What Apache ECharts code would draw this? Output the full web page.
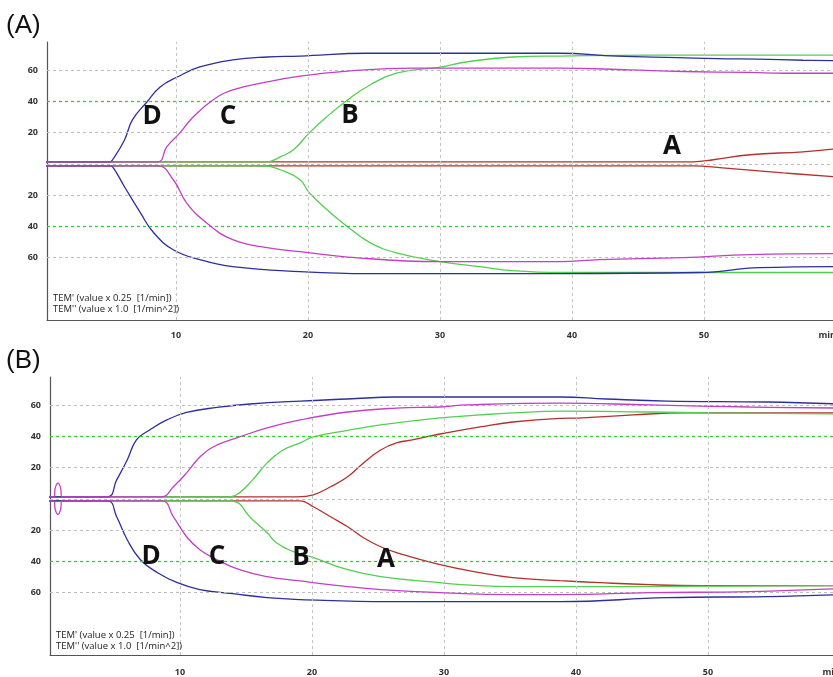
<!DOCTYPE html>
<html><head><meta charset="utf-8">
<script src="https://cdn.jsdelivr.net/npm/echarts@6/dist/echarts.min.js"></script>
<style>html,body{margin:0;padding:0;background:#fff}#c{width:833px;height:677px}</style>
</head><body><div id="c"></div><script>
// ---- Data (time in min, scaled value) ----
const xTicks = [10, 20, 30, 40, 50, 60];
const yGridGray = [60, 20, 0, -20, -60];
const yGridGreen = [40, -40];

// Panel (A)
const aD_up = [[0,1.3],[5.0,1.3],[5.2,2.6],[6.1,15.3],[6.7,28.1],[7.8,39.6],[8.8,49.2],[10.1,55.6],[11.8,62],[14.3,66.5],[16.9,68.4],[19.4,69],[24.5,70.8],[39,70.8],[43.4,69],[48,68],[51,67.3],[54,67],[57.5,66.3],[60,66]];
const aD_lo = [[0,-1.3],[5.0,-1.3],[5.2,-1.9],[6.1,-14.7],[7.3,-31.3],[8.3,-44],[9.8,-55],[11.8,-61.3],[14.3,-65.8],[19.4,-69],[24.5,-70.3],[39,-70.3],[49.7,-69.6],[54.2,-66.5],[60,-65.8]];
const aC_up = [[0,1.3],[8.6,1.3],[9.3,10.9],[10.3,19.8],[11.3,30],[12.8,40.9],[14.3,47.3],[16.9,52.4],[19.4,56.2],[23,59.4],[28,61.3],[39.1,61.3],[44.4,60.1],[48.4,59.1],[53.5,58.5],[56,58],[60,58]];
const aC_lo = [[0,-1.3],[8.6,-1.3],[9.8,-10.2],[10.8,-25],[12.3,-37.7],[14.3,-48.6],[16.9,-53.7],[19.4,-56.2],[23,-59.7],[30,-62.6],[39.1,-62.6],[42.1,-61.3],[48.4,-60.1],[53.5,-58.1],[60,-57.5]];
const aB_up = [[0,1.3],[16.9,1.3],[17.9,4.5],[18.9,9],[20.1,19.8],[21.4,30],[23,40.9],[24.7,50.5],[26.7,58.1],[30,61.9],[32,65.2],[35.5,68.4],[39.1,69],[45.9,69.6],[60,69.6]];
const aB_lo = [[0,-1.3],[16.7,-1.3],[17.9,-3.8],[19.4,-10.2],[20.1,-18.5],[21.7,-31.3],[23,-40.3],[24.7,-50.5],[26.7,-57],[30,-62.6],[33,-65.8],[35.5,-68.4],[39.1,-69.6],[60,-69.6]];
const aA_up = [[0,1.3],[49.2,1.3],[50.7,2.6],[53.5,5.8],[57.5,7.7],[60,9.6]];
const aA_lo = [[0,-1.3],[49.2,-1.3],[51.4,-2.6],[56,-5.8],[60,-8.3]];

// Panel (B)
const bD_up = [[0,1.3],[4.5,1.3],[5.2,12.1],[6,24.9],[6.7,37.7],[7.7,44.1],[9,50.5],[10.5,55.3],[12.8,58.5],[15.3,60.7],[19.1,62.6],[22.7,63.9],[26.4,65.2],[38.8,65.2],[42.3,63.9],[46.9,62.6],[54.5,62],[60,60.7]];
const bD_lo = [[0,-1.3],[4.5,-1.3],[5.2,-11.5],[6,-26.2],[7,-39],[8.3,-47.3],[9.8,-53.7],[11.5,-58.1],[14,-60.7],[16.6,-63.3],[19.1,-64.5],[25.9,-65.8],[38.8,-65.8],[46.9,-63.3],[54.5,-62.6],[60,-61.3]];
const bC_up = [[0,1.3],[0.45,1.3],[0.55,7],[0.75,10],[0.95,7],[1.05,1.3],[8.6,1.3],[9.5,7.7],[10.5,16.6],[11.5,26.8],[12.5,33.2],[14.5,39.6],[16.6,45.4],[19.1,50.5],[22.7,55.6],[26.4,58.1],[29.7,58.8],[31.7,60.1],[38.8,61.3],[45.6,60.1],[53.2,58.8],[60,58.1]];
const bC_lo = [[0,-1.3],[0.45,-1.3],[0.55,-7],[0.75,-10],[0.95,-7],[1.05,-1.3],[8.6,-1.3],[9.5,-11.5],[10.5,-24.3],[11.5,-32.6],[12.8,-39],[14.5,-45.4],[16.6,-49.8],[19.1,-52.6],[22.7,-56.2],[25.2,-58.1],[29.7,-60.1],[35.2,-61.3],[38.8,-61.3],[45.6,-60.1],[53.2,-59.4],[60,-57.5]];
const bB_up = [[0,1.3],[13.8,1.3],[14.5,3.8],[15.5,12.1],[16.6,23],[17.8,31.3],[19.1,35.8],[20.1,39.6],[22.7,43.8],[25.2,47.3],[29.7,51.8],[32.7,53.7],[35.2,55],[38.8,56.2],[45.6,55.6],[50.2,55],[60,54.3]];
const bB_lo = [[0,-1.3],[13.8,-1.3],[15.5,-13.4],[16.6,-21.7],[17.3,-28.1],[18.5,-33.5],[20.1,-37.7],[22.7,-45.4],[25.2,-49.8],[29.7,-53.7],[32.7,-55.6],[35.2,-56.2],[38.8,-56.2],[60,-55.6]];
const bA_up = [[0,1.3],[18.9,1.3],[20.1,2.6],[21.4,7.7],[22.7,14.1],[23.9,23],[25.2,31.3],[26.4,35.8],[27.6,37.7],[29.7,41.5],[32.7,46],[35.2,49.2],[38.8,51.5],[40.5,51.8],[44.3,53.7],[48.1,55],[60,55]];
const bA_lo = [[0,-1.3],[19.1,-1.3],[20.1,-5.1],[21.4,-11.5],[22.7,-17.9],[23.9,-24.9],[25.2,-30.7],[26.4,-34.5],[29.7,-42.2],[32.7,-47.3],[35.2,-50.5],[38.8,-52.4],[41.8,-53.7],[45.6,-55],[49.4,-55.6],[60,-55.6]];

const COL = {A:'#b3302d', B:'#4fd04f', C:'#c23fc6', D:'#2d2f9c'};
const TICKFONT = {fontFamily:'Open Sans', fontSize:9, fontWeight:'bold', color:'#333'};

function line(data, color, idx, z) {
  return {type:'line', xAxisIndex:idx, yAxisIndex:idx, data:data, showSymbol:false, symbol:'none',
    smooth:0.45, z:z, silent:true, animation:false,
    lineStyle:{color:color, width:1.3}};
}
function grids(idx) {
  const d = [];
  yGridGray.forEach(v => d.push({yAxis:v, lineStyle:{color:'#bdbdbd', type:[3,3], width:1}}));
  yGridGreen.forEach(v => d.push({yAxis:v, lineStyle:{color:'#33cc33', type:[3,3], width:1.3}}));
  xTicks.slice(0,5).forEach(v => d.push({xAxis:v, lineStyle:{color:'#c4c4c4', type:[3,3], width:1}}));
  return {type:'line', xAxisIndex:idx, yAxisIndex:idx, data:[], z:1, silent:true, animation:false,
    markLine:{symbol:'none', silent:true, animation:false, precision:2, label:{show:false}, data:d}};
}
function xAx(idx, min, margin) {
  return {type:'value', gridIndex:idx, min:min, max:60,
    axisLine:{show:true, onZero:false, lineStyle:{color:'#555', width:1.2}},
    axisTick:{show:false}, splitLine:{show:false},
    axisLabel:Object.assign({margin:margin, customValues:xTicks, alignMaxLabel:'right',
      formatter:v => v === 60 ? 'min' : String(v)}, TICKFONT)};
}
function yAx(idx) {
  return {type:'value', gridIndex:idx, min:-100, max:78, interval:20,
    axisLine:{show:true, onZero:false, lineStyle:{color:'#555', width:1.2}},
    axisTick:{show:false}, splitLine:{show:false},
    axisLabel:Object.assign({margin:9, showMaxLabel:false,
      formatter:v => ([20,40,60].indexOf(Math.abs(v)) >= 0 ? String(Math.abs(v)) : '')}, TICKFONT)};
}
const series = [
  grids(0),
  line(aA_up, COL.A, 0, 2), line(aA_lo, COL.A, 0, 2),
  line(aB_up, COL.B, 0, 3), line(aB_lo, COL.B, 0, 3),
  line(aD_up, COL.D, 0, 4), line(aD_lo, COL.D, 0, 4),
  line(aC_up, COL.C, 0, 5), line(aC_lo, COL.C, 0, 5),
  grids(1),
  line(bA_up, COL.A, 1, 2), line(bA_lo, COL.A, 1, 2),
  line(bB_up, COL.B, 1, 3), line(bB_lo, COL.B, 1, 3),
  line(bD_up, COL.D, 1, 4), line(bD_lo, COL.D, 1, 4),
  line(bC_up, COL.C, 1, 5), line(bC_lo, COL.C, 1, 5)
];
function txt(s, x, y, style) {
  return {type:'text', x:x, y:y, silent:true, z:20, style:Object.assign({text:s, fill:'#111'}, style)};
}
const BIG = {font:'bold 26px "Open Sans"', textAlign:'center', textVerticalAlign:'middle', fill:'#111'};
const PANEL = {font:'26px "Liberation Sans"', textAlign:'left', textVerticalAlign:'middle', fill:'#111'};
const NOTE = {font:'9.5px "Open Sans"', textAlign:'left', textVerticalAlign:'middle', fill:'#222'};
const graphic = [
  txt('(A)', 6, 26, PANEL), txt('(B)', 6, 361, PANEL),
  txt('D', 152, 117, BIG), txt('C', 228, 117, BIG), txt('B', 350, 116, BIG), txt('A', 672, 147, BIG),
  txt('D', 151, 557, BIG), txt('C', 217, 557, BIG), txt('B', 301, 558, BIG), txt('A', 386, 560, BIG),
  txt("TEM' (value x 0.25  [1/min])", 53, 298, NOTE), txt("TEM'' (value x 1.0  [1/min^2])", 53, 309, NOTE),
  txt("TEM' (value x 0.25  [1/min])", 56, 635, NOTE), txt("TEM'' (value x 1.0  [1/min^2])", 56, 646, NOTE)
];
const chart = echarts.init(document.getElementById('c'), null, {renderer:'canvas'});
chart.setOption({
  backgroundColor:'#fff', animation:false,
  grid:[{left:47, top:42, height:278, width:789, outerBoundsMode:'none', containLabel:false},
        {left:50, top:377, height:278, width:790, outerBoundsMode:'none', containLabel:false}],
  xAxis:[xAx(0, 0.23, 11), xAx(1, 0.15, 13)],
  yAxis:[yAx(0), yAx(1)],
  series:series,
  graphic:graphic
});
</script></body></html>
